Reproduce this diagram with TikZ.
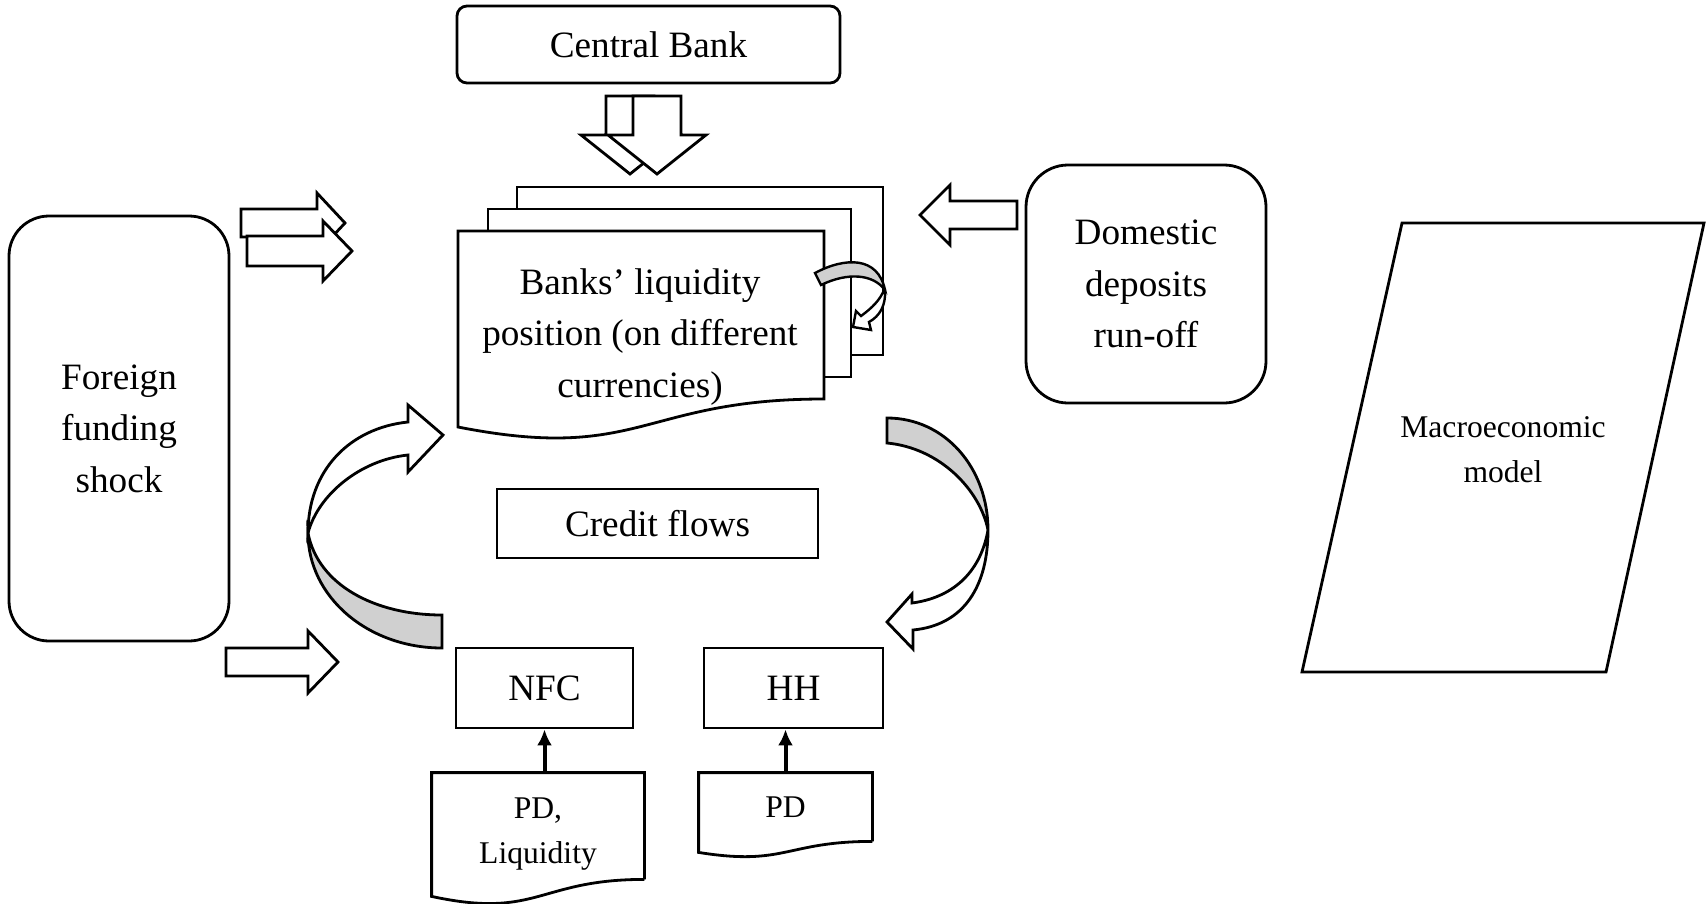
\documentclass[tikz,border=0pt]{standalone}
\usepackage{fontspec}
\setmainfont{Liberation Serif}
\usetikzlibrary{arrows.meta,calc,positioning}

\definecolor{bandgray}{RGB}{208,208,208}
\newcommand{\bigtxt}{\fontsize{18.6}{25.8}\selectfont}
\newcommand{\smalltxt}{\fontsize{15.8}{22.4}\selectfont}
% block arrow: placement, length, shaft half width, head half width, head length
\newcommand{\blockarrow}[5]{%
  \draw[blockarr,#1] (0,-#3) -- (#2-#5,-#3) -- (#2-#5,-#4) -- (#2,0) -- (#2-#5,#4) -- (#2-#5,#3) -- (0,#3) -- cycle;}

\begin{document}
\begin{tikzpicture}[x=0.5pt,y=-0.5pt,line width=1.4pt,align=center]
\tikzstyle{roundbox}=[draw,rectangle,font=\bigtxt]
\tikzstyle{plainbox}=[draw,rectangle,font=\bigtxt]
\tikzstyle{docnode}=[rectangle,font=\smalltxt]
\tikzstyle{page}=[draw,fill=white]
\tikzstyle{blockarr}=[draw,fill=white]
\tikzstyle{band}=[draw,fill=bandgray]
\tikzstyle{link}=[line width=2pt,-{Latex[length=8pt,width=7.5pt]}]

\useasboundingbox (0,0) rectangle (1707,904);

% central bank
\node[roundbox,rounded corners=5pt,minimum width=191.5pt,minimum height=38.5pt] (cb) at (648.5,44.5) {Central Bank};
\blockarrow{shift={(630,96)},rotate=-90}{78}{24}{49}{39}
\blockarrow{shift={(657,96)},rotate=-90}{78}{24}{49}{39}

% banks' liquidity (three pages)
\draw[page] (517,187) rectangle (883,355);
\draw[page] (488,209) rectangle (851,377);
\draw[page] (824,399) -- (824,231) -- (458,231) -- (458,427) .. controls (641,463) and (641,399) .. (824,399) -- cycle;
\node[font=\bigtxt] (banks) at (640,337) {Banks’ liquidity\\position (on different\\currencies)};
\draw[band,line width=1.2pt] (815,273) .. controls (845,257) and (878,256) .. (885,290) .. controls (873,274) and (848,272) .. (821,285) -- cycle;
\draw[blockarr,line width=1.2pt] (885,290) .. controls (886,305) and (880,316) .. (869,322) -- (871,330) -- (853,327) -- (856,311) -- (861,316) .. controls (872,308) and (880,300) .. (884,290) -- cycle;

% foreign funding
\node[roundbox,rounded corners=20pt,minimum width=110pt,minimum height=212.5pt] (ffs) at (119,428.5) {Foreign\\funding\\shock};
\blockarrow{shift={(241,223)}}{104}{14}{30}{28}
\blockarrow{shift={(247,251)}}{105}{15}{30}{29}
\blockarrow{shift={(226,662)}}{112}{14}{31}{30}

% domestic deposits
\node[roundbox,rounded corners=21pt,minimum width=120pt,minimum height=119pt] (dom) at (1146,284) {Domestic\\deposits\\run-off};
\blockarrow{shift={(1017,215)},rotate=180}{97}{14}{30}{30}

% credit flows
\node[plainbox,line width=0.6pt,minimum width=160.5pt,minimum height=34.5pt] (credit) at (657.5,523.5) {Credit flows};
\draw[band] (442,648) .. controls (368,648) and (308,597) .. (308,533) .. controls (318,585) and (375,615) .. (442,615) -- cycle;
\draw[blockarr] (308,533) .. controls (308,470) and (350,428) .. (408,422) -- (408,405) -- (443,435) -- (408,472) -- (408,455) .. controls (360,460) and (318,495) .. (308,533) -- cycle;
\draw[band] (887,418) .. controls (945,418) and (988,468) .. (988,530) .. controls (980,490) and (940,448) .. (887,443) -- cycle;
\draw[blockarr] (988,530) .. controls (988,585) and (965,625) .. (913,630) -- (913,649) -- (887,622) -- (912,594) -- (912,603) .. controls (950,598) and (980,575) .. (988,530) -- cycle;

% borrowers
\node[plainbox,minimum width=88.5pt,minimum height=40pt] (nfc) at (544.5,688) {NFC};
\node[plainbox,minimum width=89.5pt,minimum height=40pt] (hh) at (793.5,688) {HH};

\node[docnode,minimum width=105pt,minimum height=52pt] (pdl) at (538,826) {\rule{0pt}{18pt}PD,\\Liquidity};
\draw (pdl.south east) -- (pdl.north east) -- (pdl.north west) -- ($(pdl.south west)+(0,17)$) .. controls ($(pdl.south)+(0,40)$) and (pdl.south) .. (pdl.south east);
\node[docnode,minimum width=85.5pt,minimum height=33pt] (pdh) at (785.5,807) {PD};
\draw (pdh.south east) -- (pdh.north east) -- (pdh.north west) -- ($(pdh.south west)+(0,11)$) .. controls ($(pdh.south)+(0,25)$) and (pdh.south) .. (pdh.south east);

\draw[link] (nfc.south |- pdl.north) -- (nfc.south);
\draw[link] (pdh.north) -- (pdh.north |- hh.south);

% macroeconomic model
\coordinate (m1) at (1402,223);
\coordinate (m2) at (1704,223);
\coordinate (m3) at (1606,672);
\coordinate (m4) at (1302,672);
\draw (m1) -- (m2) -- (m3) -- (m4) -- cycle;
\node[font=\smalltxt] (macro) at (1503,450) {Macroeconomic\\model};
\end{tikzpicture}
\end{document}
